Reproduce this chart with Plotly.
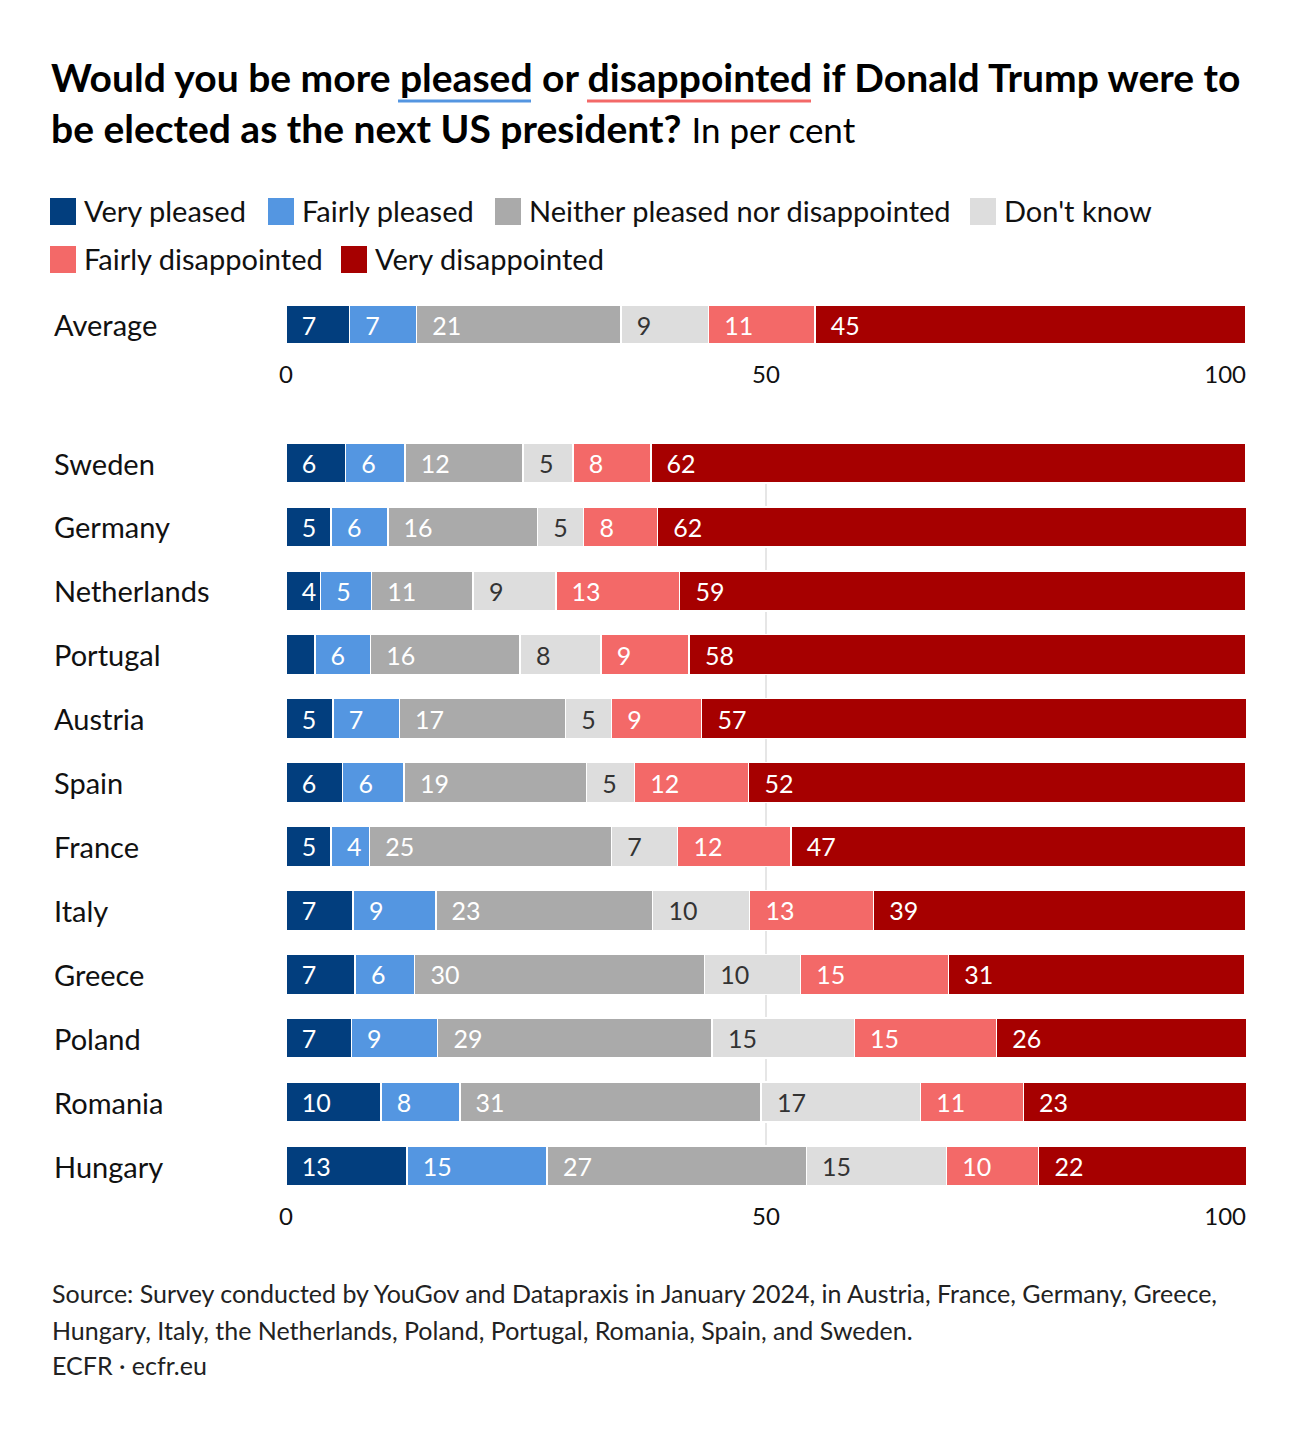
import plotly.graph_objects as go

# ---------------- data ----------------
series_names = ["Very pleased", "Fairly pleased", "Neither pleased nor disappointed",
                "Don't know", "Fairly disappointed", "Very disappointed"]
series_colors = ["#023e7e", "#5496e1", "#aaaaaa", "#dddddd", "#f36968", "#a60000"]
label_colors = ["#ffffff", "#ffffff", "#ffffff", "#333333", "#ffffff", "#ffffff"]

avg_category = ["Average"]
avg_very_pleased = [6.6]
avg_fairly_pleased = [7.0]
avg_neither = [21.3]
avg_dont_know = [9.1]
avg_fairly_disappointed = [11.1]
avg_very_disappointed = [44.9]

countries = ["Sweden", "Germany", "Netherlands", "Portugal", "Austria", "Spain",
             "France", "Italy", "Greece", "Poland", "Romania", "Hungary"]
very_pleased = [6.2, 4.7, 3.6, 3.0, 4.9, 5.9, 4.7, 7.0, 7.2, 6.8, 9.9, 12.6]
fairly_pleased = [6.2, 5.9, 5.3, 5.8, 6.9, 6.4, 4.0, 8.6, 6.2, 9.0, 8.2, 14.6]
neither = [12.3, 15.6, 10.6, 15.6, 17.3, 19.0, 25.2, 22.6, 30.2, 28.6, 31.4, 27.0]
dont_know = [5.2, 4.8, 8.6, 8.4, 4.8, 5.0, 6.9, 10.1, 10.0, 14.8, 16.6, 14.6]
fairly_disappointed = [8.1, 7.7, 12.9, 9.2, 9.4, 11.9, 11.8, 12.9, 15.4, 14.8, 10.7, 9.6]
very_disappointed = [62.0, 61.6, 59.0, 58.0, 57.0, 51.8, 47.4, 38.8, 30.9, 26.2, 23.4, 21.8]

x_tickvals = [0, 50, 100]
x_ticktext = ["0", "50", "100\u2007\u2007\u2007"]

avg_series = [avg_very_pleased, avg_fairly_pleased, avg_neither, avg_dont_know,
              avg_fairly_disappointed, avg_very_disappointed]
country_series = [very_pleased, fairly_pleased, neither, dont_know,
                  fairly_disappointed, very_disappointed]

# ---------------- layout geometry (pixels) ----------------
W, H = 1300, 1434
L, R, T, B = 286, 54, 305, 248
PW = W - L - R
PH = H - T - B
FONT = "Lato"
TEXT = "#111111"


def px(xp):
    return (xp - L) / PW


def py(yp):
    return (H - B - yp) / PH


def labels(vals):
    return ["\u00a0\u00a0" + f"{v:.0f}" if v >= 3.5 else "" for v in vals]


fig = go.Figure()

for i, name in enumerate(series_names):
    common = dict(
        name=name, orientation="h",
        marker=dict(color=series_colors[i], line=dict(color="white", width=1.5)),
        textposition="inside", insidetextanchor="start", constraintext="none",
        textfont=dict(family=FONT, size=25, color=label_colors[i]),
        hoverinfo="skip", showlegend=False,
    )
    fig.add_trace(go.Bar(x=avg_series[i], y=avg_category, text=labels(avg_series[i]),
                         xaxis="x", yaxis="y", **common))
    fig.add_trace(go.Bar(x=country_series[i], y=countries, text=labels(country_series[i]),
                         xaxis="x2", yaxis="y2", **common))

pad = 0.313
axis_font = dict(family=FONT, size=24, color=TEXT)
fig.update_layout(
    width=W, height=H,
    margin=dict(l=L, r=R, t=T, b=B),
    paper_bgcolor="white", plot_bgcolor="white",
    barmode="stack", bargap=0.374,
    font=dict(family=FONT, color=TEXT),
    xaxis=dict(anchor="y", range=[0, 100], tickvals=x_tickvals, ticktext=x_ticktext,
               showgrid=False, zeroline=False, showline=False, ticks="",
               tickfont=axis_font, ticklabelstandoff=14, fixedrange=True),
    yaxis=dict(domain=[py(344), 1], type="category", categoryarray=avg_category,
               range=[pad, -pad], showticklabels=False, showgrid=False, zeroline=False),
    xaxis2=dict(anchor="y2", range=[0, 100], tickvals=x_tickvals, ticktext=x_ticktext,
                showgrid=True, gridcolor="#e6e6e6", gridwidth=2, zeroline=False, showline=False,
                ticks="", tickfont=axis_font, ticklabelstandoff=14, fixedrange=True),
    yaxis2=dict(domain=[0, py(443)], type="category", categoryarray=countries,
                range=[len(countries) - 1 + pad, -pad], showticklabels=False,
                showgrid=False, zeroline=False),
)

annotations = []
# row labels
row_font = dict(family=FONT, size=29, color=TEXT)
annotations.append(dict(text="Average", xref="paper", yref="y", x=px(52), y="Average",
                        xanchor="left", yanchor="middle", showarrow=False, font=row_font))
for c in countries:
    annotations.append(dict(text=c, xref="paper", yref="y2", x=px(52), y=c,
                            xanchor="left", yanchor="middle", showarrow=False, font=row_font))

# title
annotations.append(dict(
    text="<b>Would you be more pleased or disappointed if Donald Trump were to</b>",
    xref="paper", yref="paper", x=px(49), y=py(77), xanchor="left", yanchor="middle",
    showarrow=False, font=dict(family=FONT, size=39, color="#000000")))
annotations.append(dict(
    text="<b>be elected as the next US president?</b> <span style='font-size:35px'>In per cent</span>",
    xref="paper", yref="paper", x=px(49), y=py(128), xanchor="left", yanchor="middle",
    showarrow=False, font=dict(family=FONT, size=39, color="#000000")))

# legend (manual, large swatches)
legend_rows = [
    [(0, 50), (1, 268), (2, 495), (3, 970)],
    [(4, 50), (5, 341)],
]
legend_y = [211, 259]
shapes = []
for row, yc in zip(legend_rows, legend_y):
    for idx, x0 in row:
        shapes.append(dict(type="rect", xref="paper", yref="paper",
                           x0=px(x0), x1=px(x0 + 26), y0=py(yc - 13), y1=py(yc + 14),
                           fillcolor=series_colors[idx], line=dict(width=0)))
        annotations.append(dict(text=series_names[idx], xref="paper", yref="paper",
                                x=px(x0 + 32), y=py(yc - 1), xanchor="left", yanchor="middle",
                                showarrow=False, font=dict(family=FONT, size=29, color=TEXT)))

# title underlines
shapes.append(dict(type="line", xref="paper", yref="paper", x0=px(398), x1=px(531),
                   y0=py(101), y1=py(101), line=dict(color=series_colors[1], width=3)))
shapes.append(dict(type="line", xref="paper", yref="paper", x0=px(587), x1=px(811),
                   y0=py(101), y1=py(101), line=dict(color=series_colors[4], width=3)))

# footer
footer_lines = [
    ("Source: Survey conducted by YouGov and Datapraxis in January 2024, in Austria, France, Germany, Greece,", 1293),
    ("Hungary, Italy, the Netherlands, Poland, Portugal, Romania, Spain, and Sweden.", 1330),
    ("ECFR · ecfr.eu", 1365),
]
for txt, yc in footer_lines:
    annotations.append(dict(text=txt, xref="paper", yref="paper", x=px(50), y=py(yc),
                            xanchor="left", yanchor="middle", showarrow=False,
                            font=dict(family=FONT, size=25, color="#222222")))

fig.update_layout(annotations=annotations, shapes=shapes)
fig.write_html("out.html")
